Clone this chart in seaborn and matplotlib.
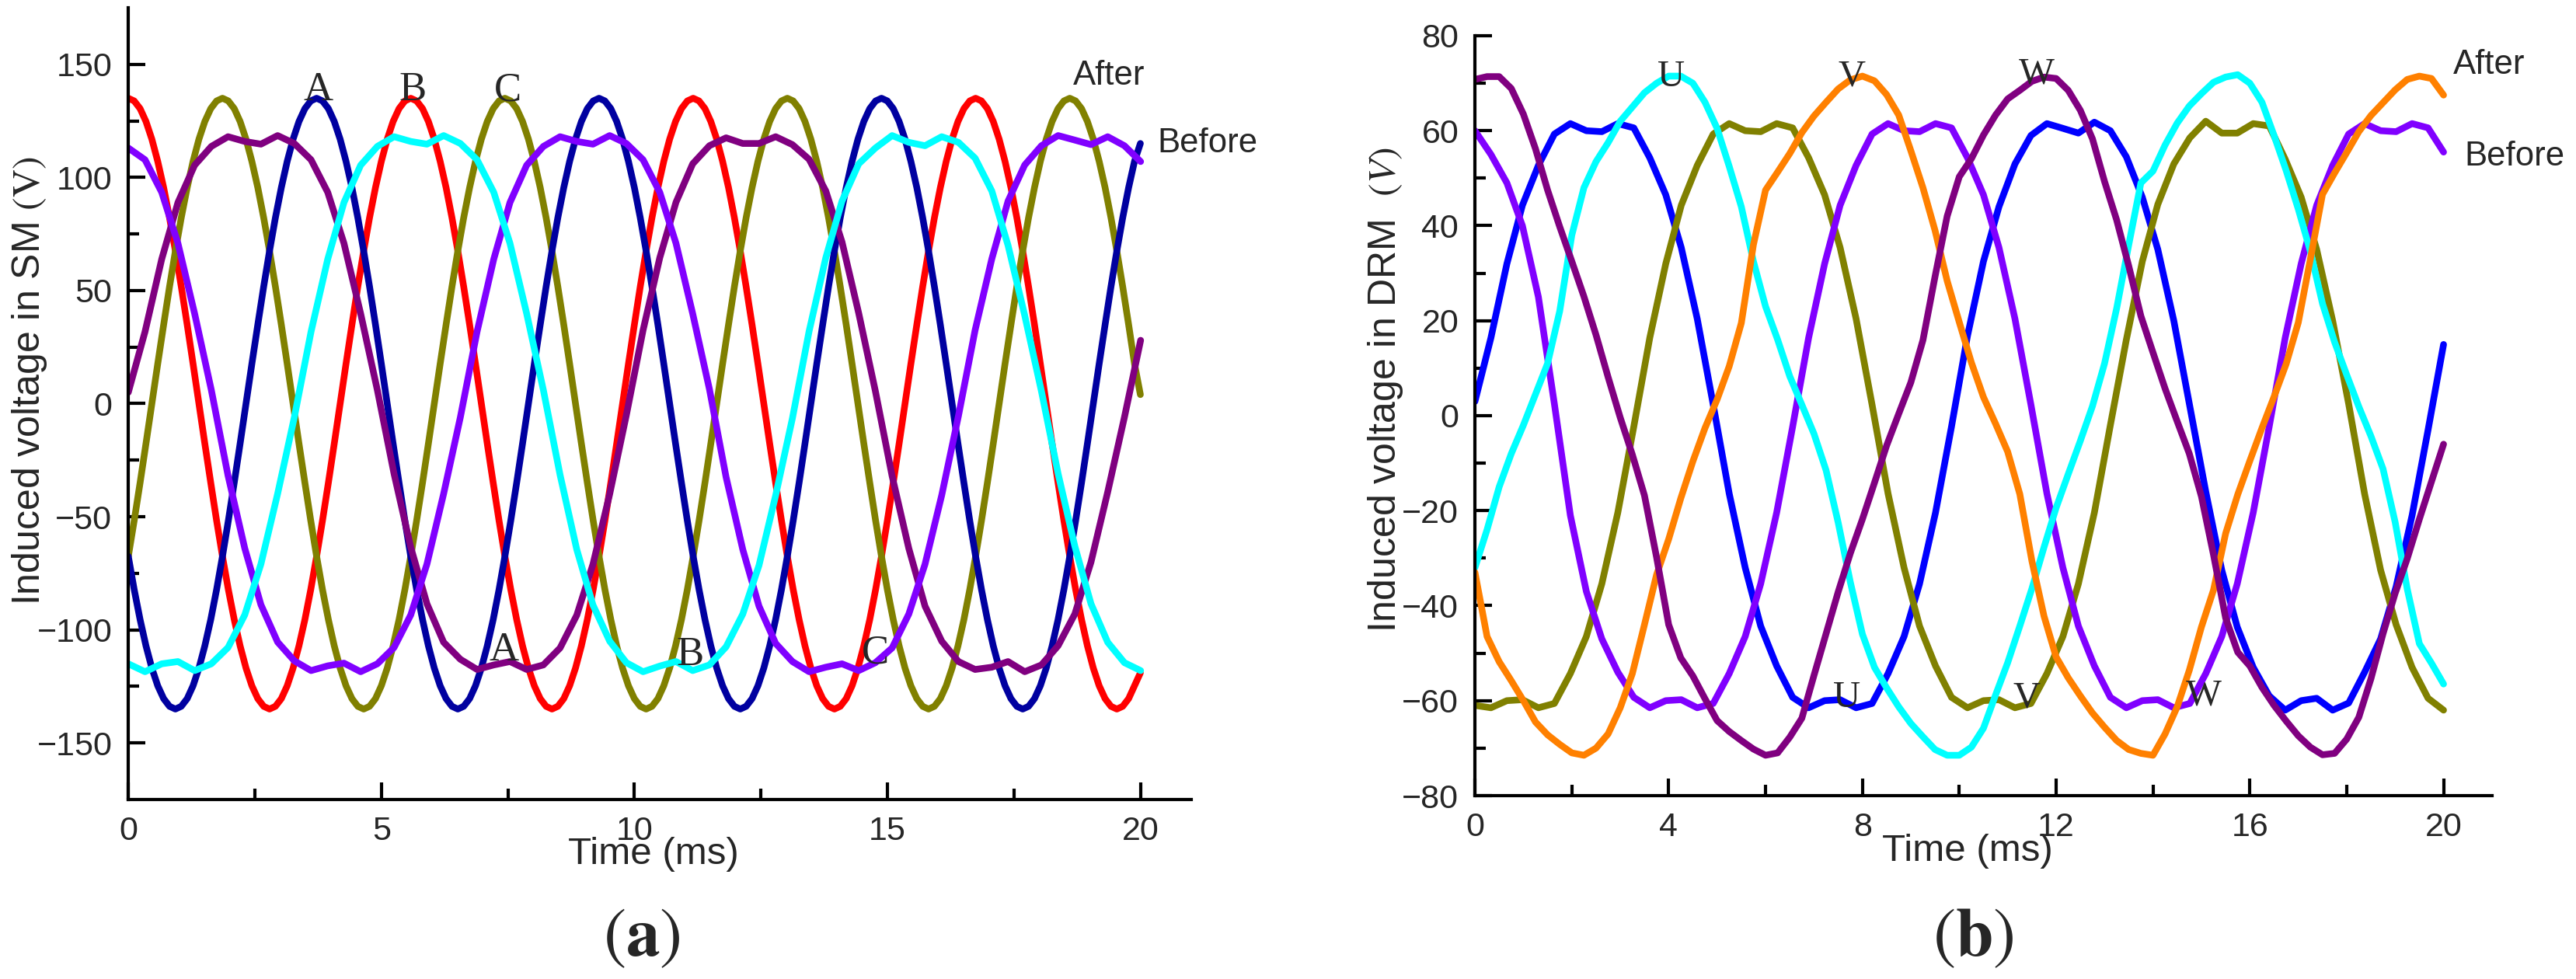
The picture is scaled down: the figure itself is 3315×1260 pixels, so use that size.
import numpy as np
import pandas as pd
import matplotlib
matplotlib.use("Agg")
import matplotlib.pyplot as plt
from matplotlib.ticker import MultipleLocator, FixedLocator
import seaborn as sns

# ---------------- data: panel (a) SM ----------------
t_a_after = [0.000, 0.116, 0.233, 0.349, 0.465, 0.581, 0.698, 0.814, 0.930, 1.046, 1.163, 1.279, 1.395, 1.511, 1.628, 1.744,
             1.860, 1.976, 2.093, 2.209, 2.325, 2.441, 2.558, 2.674, 2.790, 2.906, 3.023, 3.139, 3.255, 3.371, 3.488, 3.604,
             3.720, 3.836, 3.953, 4.069, 4.185, 4.301, 4.418, 4.534, 4.650, 4.766, 4.883, 4.999, 5.115, 5.231, 5.348, 5.464,
             5.580, 5.696, 5.813, 5.929, 6.045, 6.161, 6.278, 6.394, 6.510, 6.626, 6.743, 6.859, 6.975, 7.091, 7.208, 7.324,
             7.440, 7.556, 7.673, 7.789, 7.905, 8.021, 8.138, 8.254, 8.370, 8.486, 8.603, 8.719, 8.835, 8.951, 9.068, 9.184,
             9.300, 9.416, 9.533, 9.649, 9.765, 9.881, 9.998, 10.114, 10.230, 10.346, 10.463, 10.579, 10.695, 10.811, 10.928, 11.044,
             11.160, 11.276, 11.393, 11.509, 11.625, 11.741, 11.858, 11.974, 12.090, 12.206, 12.323, 12.439, 12.555, 12.671, 12.788, 12.904,
             13.020, 13.136, 13.253, 13.369, 13.485, 13.601, 13.718, 13.834, 13.950, 14.066, 14.183, 14.299, 14.415, 14.531, 14.648, 14.764,
             14.880, 14.996, 15.113, 15.229, 15.345, 15.461, 15.578, 15.694, 15.810, 15.926, 16.043, 16.159, 16.275, 16.391, 16.508, 16.624,
             16.740, 16.856, 16.973, 17.089, 17.205, 17.321, 17.438, 17.554, 17.670, 17.786, 17.903, 18.019, 18.135, 18.251, 18.368, 18.484,
             18.600, 18.716, 18.833, 18.949, 19.065, 19.181, 19.298, 19.414, 19.530, 19.646, 19.763, 19.879, 19.995]

sm_after_A = [-67.5, -82.2, -95.5, -107.1, -116.9, -124.7, -130.4, -133.8, -135, -133.8, -130.4, -124.7, -116.9, -107.1, -95.5, -82.2,
              -67.5, -51.7, -34.9, -17.6, 0, 17.6, 34.9, 51.7, 67.5, 82.2, 95.5, 107.1, 116.9, 124.7, 130.4, 133.8,
              135, 133.8, 130.4, 124.7, 116.9, 107.1, 95.5, 82.2, 67.5, 51.7, 34.9, 17.6, 0, -17.6, -34.9, -51.7,
              -67.5, -82.2, -95.5, -107.1, -116.9, -124.7, -130.4, -133.8, -135, -133.8, -130.4, -124.7, -116.9, -107.1, -95.5, -82.2,
              -67.5, -51.7, -34.9, -17.6, 0, 17.6, 34.9, 51.7, 67.5, 82.2, 95.5, 107.1, 116.9, 124.7, 130.4, 133.8,
              135, 133.8, 130.4, 124.7, 116.9, 107.1, 95.5, 82.2, 67.5, 51.7, 34.9, 17.6, 0, -17.6, -34.9, -51.7,
              -67.5, -82.2, -95.5, -107.1, -116.9, -124.7, -130.4, -133.8, -135, -133.8, -130.4, -124.7, -116.9, -107.1, -95.5, -82.2,
              -67.5, -51.7, -34.9, -17.6, 0, 17.6, 34.9, 51.7, 67.5, 82.2, 95.5, 107.1, 116.9, 124.7, 130.4, 133.8,
              135, 133.8, 130.4, 124.7, 116.9, 107.1, 95.5, 82.2, 67.5, 51.7, 34.9, 17.6, 0, -17.6, -34.9, -51.7,
              -67.5, -82.2, -95.5, -107.1, -116.9, -124.7, -130.4, -133.8, -135, -133.8, -130.4, -124.7, -116.9, -107.1, -95.5, -82.2,
              -67.5, -51.7, -34.9, -17.6, 0, 17.6, 34.9, 51.7, 67.5, 82.2, 95.5, 107.1, 115]
sm_after_B = [135, 133.8, 130.4, 124.7, 116.9, 107.1, 95.5, 82.2, 67.5, 51.7, 34.9, 17.6, 0, -17.6, -34.9, -51.7,
              -67.5, -82.2, -95.5, -107.1, -116.9, -124.7, -130.4, -133.8, -135, -133.8, -130.4, -124.7, -116.9, -107.1, -95.5, -82.2,
              -67.5, -51.7, -34.9, -17.6, 0, 17.6, 34.9, 51.7, 67.5, 82.2, 95.5, 107.1, 116.9, 124.7, 130.4, 133.8,
              135, 133.8, 130.4, 124.7, 116.9, 107.1, 95.5, 82.2, 67.5, 51.7, 34.9, 17.6, 0, -17.6, -34.9, -51.7,
              -67.5, -82.2, -95.5, -107.1, -116.9, -124.7, -130.4, -133.8, -135, -133.8, -130.4, -124.7, -116.9, -107.1, -95.5, -82.2,
              -67.5, -51.7, -34.9, -17.6, 0, 17.6, 34.9, 51.7, 67.5, 82.2, 95.5, 107.1, 116.9, 124.7, 130.4, 133.8,
              135, 133.8, 130.4, 124.7, 116.9, 107.1, 95.5, 82.2, 67.5, 51.7, 34.9, 17.6, 0, -17.6, -34.9, -51.7,
              -67.5, -82.2, -95.5, -107.1, -116.9, -124.7, -130.4, -133.8, -135, -133.8, -130.4, -124.7, -116.9, -107.1, -95.5, -82.2,
              -67.5, -51.7, -34.9, -17.6, 0, 17.6, 34.9, 51.7, 67.5, 82.2, 95.5, 107.1, 116.9, 124.7, 130.4, 133.8,
              135, 133.8, 130.4, 124.7, 116.9, 107.1, 95.5, 82.2, 67.5, 51.7, 34.9, 17.6, 0, -17.6, -34.9, -51.7,
              -67.5, -82.2, -95.5, -107.1, -116.9, -124.7, -130.4, -133.8, -135, -133.8, -130.4, -124.7, -119]
sm_after_C = [-67.5, -51.7, -34.9, -17.6, 0, 17.6, 34.9, 51.7, 67.5, 82.2, 95.5, 107.1, 116.9, 124.7, 130.4, 133.8,
              135, 133.8, 130.4, 124.7, 116.9, 107.1, 95.5, 82.2, 67.5, 51.7, 34.9, 17.6, 0, -17.6, -34.9, -51.7,
              -67.5, -82.2, -95.5, -107.1, -116.9, -124.7, -130.4, -133.8, -135, -133.8, -130.4, -124.7, -116.9, -107.1, -95.5, -82.2,
              -67.5, -51.7, -34.9, -17.6, 0, 17.6, 34.9, 51.7, 67.5, 82.2, 95.5, 107.1, 116.9, 124.7, 130.4, 133.8,
              135, 133.8, 130.4, 124.7, 116.9, 107.1, 95.5, 82.2, 67.5, 51.7, 34.9, 17.6, 0, -17.6, -34.9, -51.7,
              -67.5, -82.2, -95.5, -107.1, -116.9, -124.7, -130.4, -133.8, -135, -133.8, -130.4, -124.7, -116.9, -107.1, -95.5, -82.2,
              -67.5, -51.7, -34.9, -17.6, 0, 17.6, 34.9, 51.7, 67.5, 82.2, 95.5, 107.1, 116.9, 124.7, 130.4, 133.8,
              135, 133.8, 130.4, 124.7, 116.9, 107.1, 95.5, 82.2, 67.5, 51.7, 34.9, 17.6, 0, -17.6, -34.9, -51.7,
              -67.5, -82.2, -95.5, -107.1, -116.9, -124.7, -130.4, -133.8, -135, -133.8, -130.4, -124.7, -116.9, -107.1, -95.5, -82.2,
              -67.5, -51.7, -34.9, -17.6, 0, 17.6, 34.9, 51.7, 67.5, 82.2, 95.5, 107.1, 116.9, 124.7, 130.4, 133.8,
              135, 133.8, 130.4, 124.7, 116.9, 107.1, 95.5, 82.2, 67.5, 51.7, 34.9, 17.6, 4]

t_before = [0, 0.33, 0.66, 0.98, 1.31, 1.64, 1.97, 2.30, 2.62, 2.95, 3.28, 3.61, 3.94, 4.26, 4.59, 4.92,
            5.25, 5.58, 5.90, 6.23, 6.56, 6.89, 7.22, 7.54, 7.87, 8.20, 8.53, 8.86, 9.18, 9.51, 9.84,
            10.17, 10.50, 10.82, 11.15, 11.48, 11.81, 12.14, 12.46, 12.79, 13.12, 13.45, 13.78, 14.10,
            14.43, 14.76, 15.09, 15.42, 15.74, 16.07, 16.40, 16.73, 17.06, 17.38, 17.71, 18.04, 18.37,
            18.70, 19.02, 19.35, 19.68, 20.00]

sm_before_A = [5, 31.8, 63.9, 88.9, 105.4, 113.7, 118.0, 115.9, 114.7, 118.5, 115.0, 107.8, 93.4, 70.9, 39.8,
               6.0, -31.0, -63.5, -88.5, -105.5, -113.0, -117.5, -115.5, -114.0, -117.5, -115.5, -108.0, -93.5, -71.0, -40.0,
               -5.0, 32.5, 64.5, 89.0, 106.0, 114.0, 117.5, 115.0, 115.0, 118.0, 114.5, 108.0, 94.0, 71.5, 40.0,
               5.5, -32.0, -64.0, -89.5, -105.0, -114.0, -117.5, -116.5, -114.0, -118.5, -115.5, -107.0, -93.0, -70.0, -39.0,
               -6.0, 28.0]
sm_before_B = [-115.0, -118.5, -115.0, -114.0, -118.0, -115.0, -107.8, -93.4, -70.9, -39.8,
               -6.0, 31.8, 63.9, 88.9, 105.4, 113.7, 118.0, 115.9, 114.7, 118.5, 115.0, 107.8, 93.4, 70.9, 39.8,
               6.0, -31.5, -64.5, -89.0, -105.0, -114.5, -118.5, -116.0, -114.0, -118.0, -115.5, -107.5, -93.0, -71.5, -40.5,
               -6.5, 32.0, 64.5, 89.5, 106.0, 113.0, 118.5, 115.5, 114.0, 118.0, 115.5, 108.5, 94.0, 70.0, 39.0,
               5.5, -31.0, -63.0, -88.5, -105.5, -114.5, -118.0]
sm_before_C = [113.0, 107.8, 93.4, 70.9, 39.8,
               6.0, -31.8, -63.9, -88.9, -105.4, -113.7, -118.0, -115.9, -114.7, -118.5, -115.0, -107.8, -93.4, -70.9, -39.8,
               -6.0, 31.8, 63.9, 88.9, 105.4, 113.7, 118.0, 115.9, 114.7, 118.5, 115.0, 107.8, 93.4, 70.9, 39.8,
               6.5, -32.5, -64.5, -89.5, -106.0, -114.0, -118.5, -116.5, -115.0, -118.0, -114.5, -108.0, -93.0, -71.0, -40.5,
               -5.5, 32.5, 64.0, 89.5, 105.5, 114.0, 118.5, 116.5, 114.5, 118.0, 114.0, 107.0]

# ---------------- data: panel (b) DRM ----------------
t_b_after = [0, 0.25, 0.5, 0.75, 1.0, 1.25, 1.5, 1.75, 2.0, 2.25, 2.5, 2.75, 3.0, 3.25, 3.5, 3.75,
             4.0, 4.25, 4.5, 4.75, 5.0, 5.25, 5.5, 5.75, 6.0, 6.25, 6.5, 6.75, 7.0, 7.25, 7.5, 7.75,
             8.0, 8.25, 8.5, 8.75, 9.0, 9.25, 9.5, 9.75, 10.0, 10.25, 10.5, 10.75, 11.0, 11.25, 11.5, 11.75,
             12.0, 12.25, 12.5, 12.75, 13.0, 13.25, 13.5, 13.75, 14.0, 14.25, 14.5, 14.75, 15.0, 15.25, 15.5, 15.75,
             16.0, 16.25, 16.5, 16.75, 17.0, 17.25, 17.5, 17.75, 18.0, 18.25, 18.5, 18.75, 19.0, 19.25, 19.5, 19.75, 20.0]

drm_after_U = [-32, -24, -15, -8, -2, 4.5, 11, 22, 38, 48, 53.5, 57.5, 62, 65, 68, 70,
               71.5, 71.5, 70, 66, 60.5, 52.5, 44, 32.5, 23, 16, 8.3, 2.3, -3.8, -11.5, -22.5, -35,
               -46, -53, -57.3, -61.3, -64.8, -67.6, -70.3, -71.5, -71.5, -69.8, -65.8, -58.8, -52, -44.3, -36.4, -27.7,
               -19.4, -12.3, -5.3, 2, 11, 22.6, 36, 49, 51.5, 57, 61.6, 65.2, 67.8, 70.2, 71.3, 71.8,
               70, 66, 59, 51.6, 43.5, 34.6, 23.6, 15.5, 8.6, 1.9, -4.3, -11.2, -22.4, -36.5, -48, -52.1, -56.5]
drm_after_V = [-33, -46.5, -51.8, -55.8, -60, -64.5, -67.2, -69.2, -71, -71.5, -70, -67, -61.5, -54.3, -44, -33.5,
               -26, -17.4, -9.6, -2.6, 3.4, 10.4, 19.5, 36, 47.5, 51.3, 55.2, 59.6, 63.1, 66, 68.8, 70.7,
               71.5, 70.5, 67.6, 63.3, 55.8, 48, 39, 28.4, 19.7, 11.2, 3.9, -1.7, -7.6, -16.5, -30.6, -42.2,
               -50.8, -55.2, -59, -62.6, -65.6, -68.4, -70.3, -71.1, -71.5, -67, -61.3, -53.6, -44.5, -36.7, -24.8, -16.6,
               -9.5, -2.6, 4, 10.9, 19.6, 33, 46.6, 51.1, 55.4, 59.8, 63.2, 65.9, 68.6, 70.8, 71.5, 71, 67.5]
drm_after_W = [70.8, 71.4, 71.4, 68.9, 63.5, 56.2, 47.5, 39.8, 32.5, 25.1, 17, 8.1, -0.4, -8.2, -16.8, -29.8,
               -44, -51, -54.8, -59.6, -64.2, -66.5, -68.4, -70.2, -71.5, -71, -67.7, -63.7, -54.7, -45.9, -37.1, -29,
               -21.8, -14.1, -6.3, 0.4, 7, 15.9, 29.3, 42, 50.3, 54.1, 59.1, 63.3, 66.7, 68.5, 70.4, 71.3,
               71, 68.5, 64.3, 58.3, 49.3, 41.2, 31.5, 21, 13.3, 5.7, -1.2, -8, -17, -29.3, -42.6, -49.8,
               -52.7, -57.2, -61, -64.3, -67.4, -69.8, -71.4, -71.1, -68.1, -63.5, -55.4, -45.9, -37.4, -30.1, -21.8, -13.9, -6]

drm_before_U = [3, 16.4, 32.0, 44.3, 52.7, 59.3, 61.5, 60.0, 59.8, 61.5, 60.6, 54.3, 46.5, 35.4, 20.4,
                2.3, -16.4, -32.0, -44.3, -52.7, -59.3, -61.5, -60.0, -59.8, -61.5, -60.6, -54.3, -46.5, -35.4, -20.4,
                -2.3, 16.8, 32.5, 44.0, 53.0, 59.0, 61.5, 60.5, 59.5, 61.8, 60.0, 54.5, 46.0, 35.0, 20.0,
                2.0, -16.0, -32.5, -44.5, -53.0, -59.0, -62.0, -60.0, -59.5, -62.0, -60.5, -54.0, -47.0, -36.0, -21.0,
                -3.0, 15.0]
drm_before_V = [-61.0, -61.5, -60.0, -59.8, -61.5, -60.6, -54.3, -46.5, -35.4, -20.4,
                -2.3, 16.4, 32.0, 44.3, 52.7, 59.3, 61.5, 60.0, 59.8, 61.5, 60.6, 54.3, 46.5, 35.4, 20.4,
                2.3, -16.4, -32.0, -44.3, -52.7, -59.3, -61.5, -60.0, -59.8, -61.5, -60.6, -54.3, -46.5, -35.4, -20.4,
                -2.0, 16.0, 32.5, 44.5, 53.0, 58.5, 62.0, 59.5, 59.5, 61.5, 61.0, 54.0, 46.0, 35.0, 20.0,
                2.5, -16.5, -32.5, -44.0, -53.0, -59.5, -62.0]
drm_before_W = [60.0, 55.0, 49.0, 40.0, 25.0, 2.5, -21.0, -37.0, -47.0, -54.0,
                -59.3, -61.5, -60.0, -59.8, -61.5, -60.6, -54.3, -46.5, -35.4, -20.4,
                -2.3, 16.4, 32.0, 44.3, 52.7, 59.3, 61.5, 60.0, 59.8, 61.5, 60.6, 54.3, 46.5, 35.4, 20.4,
                2.3, -16.4, -32.0, -44.3, -52.7, -59.3, -61.5, -60.0, -59.8, -61.5, -60.6, -54.3, -46.5, -35.4, -20.4,
                -2.3, 16.4, 32.0, 44.3, 52.7, 59.3, 61.5, 60.0, 59.8, 61.5, 60.6, 55.5]

# ---------------- style ----------------
sns.set_style("ticks")
plt.rcParams["font.family"] = ["Liberation Sans", "DejaVu Sans"]
plt.rcParams["mathtext.fontset"] = "stix"

LW = 6.2
SERIF = ["Liberation Serif", "DejaVu Serif"]


def frame(pairs):
    parts = [pd.DataFrame({"t": t, "v": v, "curve": name}) for name, t, v in pairs]
    return pd.concat(parts, ignore_index=True)


df_a = frame([
    ("A after", t_a_after, sm_after_A),
    ("B after", t_a_after, sm_after_B),
    ("C after", t_a_after, sm_after_C),
    ("A before", t_before, sm_before_A),
    ("B before", t_before, sm_before_B),
    ("C before", t_before, sm_before_C),
])
pal_a = {"A after": "#0000A0", "B after": "#FF0000", "C after": "#808000",
         "A before": "#800080", "B before": "#00FFFF", "C before": "#8000FF"}
order_a = ["B after", "C after", "A after", "A before", "C before", "B before"]

df_b = frame([
    ("U before", t_before, drm_before_U),
    ("V before", t_before, drm_before_V),
    ("W before", t_before, drm_before_W),
    ("U after", t_b_after, drm_after_U),
    ("V after", t_b_after, drm_after_V),
    ("W after", t_b_after, drm_after_W),
])
pal_b = {"U before": "#0000FF", "V before": "#808000", "W before": "#8000FF",
         "U after": "#00FFFF", "V after": "#FF8000", "W after": "#800080"}
order_b = ["U before", "V before", "W before", "U after", "V after", "W after"]

fig = plt.figure(figsize=(33.16, 12.6), dpi=100)
axa = fig.add_axes([0.0498, 0.1833, 0.4125, 0.8088])
axb = fig.add_axes([0.5724, 0.1873, 0.3947, 0.7762])

sns.lineplot(data=df_a, x="t", y="v", hue="curve", hue_order=order_a, palette=pal_a,
             linewidth=LW, estimator=None, sort=False, legend=False, ax=axa)
sns.lineplot(data=df_b, x="t", y="v", hue="curve", hue_order=order_b, palette=pal_b,
             linewidth=LW, estimator=None, sort=False, legend=False, ax=axb)

axa.set_xlim(0, 21)
axa.set_ylim(-175, 175)
axa.xaxis.set_major_locator(MultipleLocator(5))
axa.xaxis.set_minor_locator(MultipleLocator(2.5))
axa.yaxis.set_major_locator(MultipleLocator(50))
axa.yaxis.set_minor_locator(FixedLocator([-125, -75, -25, 25, 75, 125]))

axb.set_xlim(0, 21)
axb.set_ylim(-80, 80)
axb.xaxis.set_major_locator(MultipleLocator(4))
axb.xaxis.set_minor_locator(MultipleLocator(2))
axb.yaxis.set_major_locator(MultipleLocator(20))
axb.yaxis.set_minor_locator(MultipleLocator(10))

for ax in (axa, axb):
    for s in ("top", "right"):
        ax.spines[s].set_visible(False)
    for s in ("left", "bottom"):
        ax.spines[s].set_linewidth(3.0)
        ax.spines[s].set_color("black")
    ax.tick_params(which="both", direction="in", width=3.0, color="black",
                   labelsize=31, pad=15, top=False, right=False)
    ax.tick_params(which="major", length=16)
    ax.tick_params(which="minor", length=10)

axa.set_xlabel("Time (ms)", fontsize=35.5)
axa.xaxis.set_label_coords(0.494, -0.047)
axa.set_ylabel(r"Induced voltage in SM $(\mathrm{V})$", fontsize=36)
axa.yaxis.set_label_coords(-0.0745, 0.529)

axb.set_xlabel("Time (ms)", fontsize=35.5)
axb.xaxis.set_label_coords(0.484, -0.050)
axb.set_ylabel(r"Induced voltage in DRM  $(V)$", fontsize=36)
axb.yaxis.set_label_coords(-0.069, 0.534)

# phase labels
for txt, x, y in [("A", 3.75, 134), ("B", 5.62, 134), ("C", 7.49, 134),
                  ("A", 7.42, -113.4), ("B", 11.1, -115.5), ("C", 14.76, -114.8)]:
    axa.text(x, y, txt, family=SERIF, fontsize=38, ha="center", va="baseline")
for txt, x, y in [("U", 4.05, 69.4), ("V", 7.78, 69.4), ("W", 11.59, 69.9),
                  ("U", 7.68, -61.4), ("V", 11.39, -61.4), ("W", 15.05, -60.9)]:
    axb.text(x, y, txt, family=SERIF, fontsize=35, ha="center", va="baseline")

axa.text(18.66, 141, "After", fontsize=31.5, ha="left", va="baseline", clip_on=False)
axa.text(20.33, 111, "Before", fontsize=31.5, ha="left", va="baseline", clip_on=False)
axb.text(20.19, 72, "After", fontsize=31.5, ha="left", va="baseline", clip_on=False)
axb.text(20.43, 52.6, "Before", fontsize=31.5, ha="left", va="baseline", clip_on=False)

fig.text(0.249, 0.0238, r"$(\mathbf{a})$", fontsize=63, ha="center", va="baseline")
fig.text(0.7657, 0.0238, r"$(\mathbf{b})$", fontsize=63, ha="center", va="baseline")

fig.savefig("out.png", dpi=100)
